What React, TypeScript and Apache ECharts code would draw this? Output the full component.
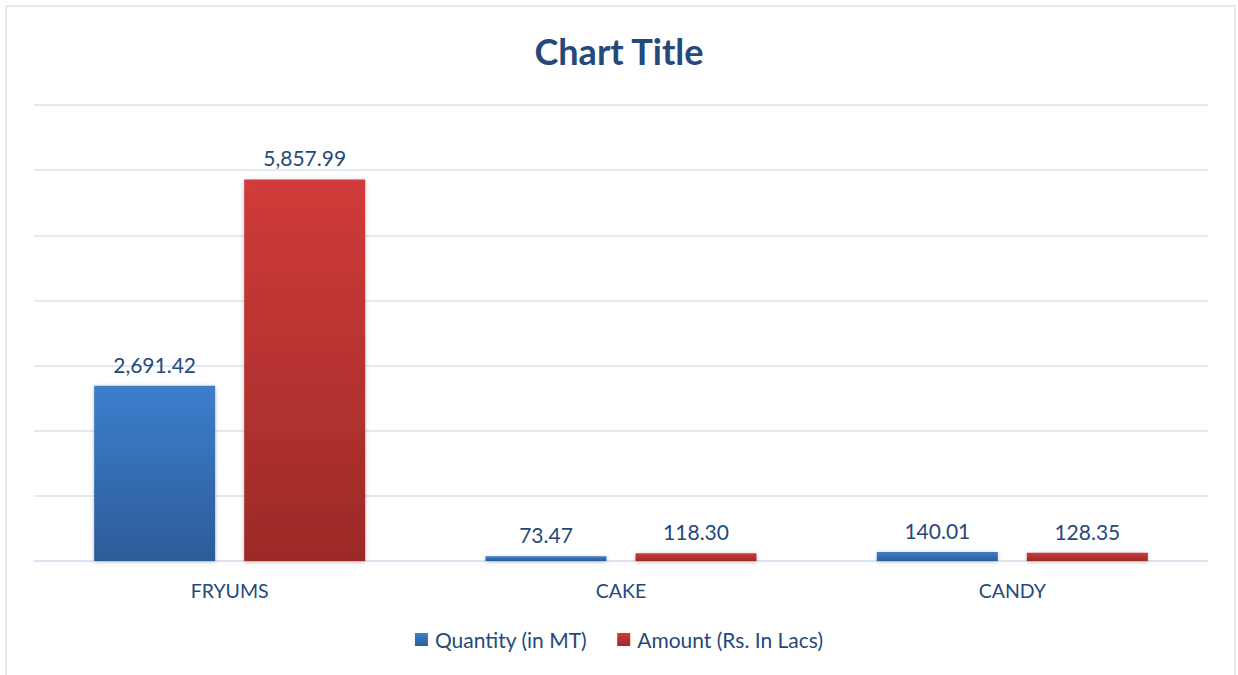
import React, { useEffect, useRef } from "react";
import * as echarts from "echarts";

const categories = ["FRYUMS", "CAKE", "CANDY"];
const quantity = [2691.42, 73.47, 140.01];
const amount = [5857.99, 118.3, 128.35];
const seriesNames = ["Quantity (in MT)", "Amount (Rs. In Lacs)"];

const TEXT = "#24497A";
const GRID = "#D9E3F1";
const FONT = "Lato, 'Open Sans', sans-serif";

const fmt = (v: number) =>
  v.toLocaleString("en-US", { minimumFractionDigits: 2, maximumFractionDigits: 2 });

export default function App() {
  const ref = useRef<HTMLDivElement>(null);
  useEffect(() => {
    if (!ref.current) return;
    const chart = echarts.init(ref.current, undefined, { renderer: "svg" });
    const blue = new echarts.graphic.LinearGradient(0, 0, 0, 1, [
      { offset: 0, color: "#3D7ECD" },
      { offset: 1, color: "#2C5C98" },
    ]);
    const red = new echarts.graphic.LinearGradient(0, 0, 0, 1, [
      { offset: 0, color: "#D13B3A" },
      { offset: 1, color: "#9B2A27" },
    ]);
    const label = {
      show: true,
      position: "top",
      distance: 11,
      color: TEXT,
      fontSize: 21,
      fontFamily: FONT,
      formatter: (p: any) => fmt(p.value),
    };
    chart.setOption({
      animation: false,
      backgroundColor: "#fff",
      title: {
        text: "Chart Title",
        left: "center",
        top: 28,
        textStyle: { color: TEXT, fontSize: 36, fontWeight: "bold", fontFamily: FONT },
      },
      graphic: [
        {
          type: "rect",
          shape: { x: 6, y: 6, width: 1229, height: 680 },
          style: { fill: "none", stroke: GRID, lineWidth: 1.5 },
          silent: true,
        },
      ],
      legend: {
        bottom: 20,
        left: "center",
        itemWidth: 13,
        itemHeight: 13,
        itemGap: 30,
        icon: "rect",
        textStyle: { color: TEXT, fontSize: 21, fontFamily: FONT, padding: [0, 0, 0, 2] },
        data: [
          { name: seriesNames[0], itemStyle: { color: blue } },
          { name: seriesNames[1], itemStyle: { color: red } },
        ],
      },
      grid: { left: 34, right: 30, top: 105, bottom: 114 },
      xAxis: {
        type: "category",
        data: categories,
        axisLine: { lineStyle: { color: GRID, width: 1.5 } },
        axisTick: { show: false },
        axisLabel: { color: TEXT, fontSize: 19.5, fontFamily: FONT, margin: 19 },
      },
      yAxis: {
        type: "value",
        min: 0,
        max: 7000,
        interval: 1000,
        axisLabel: { show: false },
        axisLine: { show: false },
        axisTick: { show: false },
        splitLine: { lineStyle: { color: GRID, width: 1.5 } },
      },
      series: [
        {
          name: seriesNames[0],
          type: "bar",
          data: quantity,
          barWidth: 121,
          barGap: "24%",
          itemStyle: { color: blue, shadowColor: "rgba(0,0,0,0.25)", shadowBlur: 4, shadowOffsetY: 1 },
          label,
        },
        {
          name: seriesNames[1],
          type: "bar",
          data: amount,
          barWidth: 121,
          itemStyle: { color: red, shadowColor: "rgba(0,0,0,0.25)", shadowBlur: 4, shadowOffsetY: 1 },
          label,
        },
      ],
    });
    return () => chart.dispose();
  }, []);
  return (
    <div
      ref={ref}
      style={{ position: "fixed", left: 0, top: 0, width: 1238, height: 675 }}
    />
  );
}
